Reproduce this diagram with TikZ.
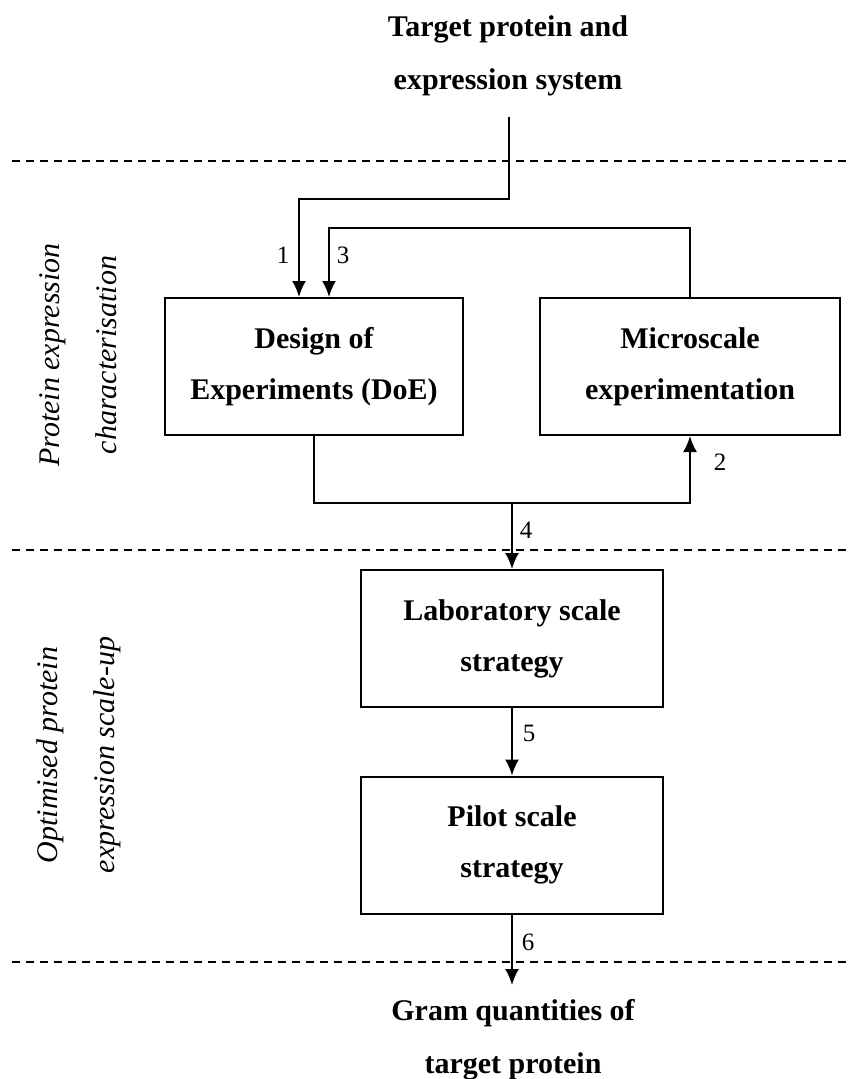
\documentclass[tikz,border=0pt]{standalone}
\usepackage{fontspec}
\setmainfont{Liberation Serif}
\usetikzlibrary{arrows.meta}
\begin{document}
\begin{tikzpicture}[x=1pt,y=-1pt,
  stagebox/.style={draw,line width=2pt,minimum height=137pt,align=center,
    inner sep=0pt,font=\fontsize{30}{51}\selectfont\bfseries},
  endtext/.style={align=center,font=\fontsize{30}{53}\selectfont\bfseries},
  phase/.style={align=center,rotate=90,font=\fontsize{30}{57}\selectfont\itshape},
  flow/.style={line width=2pt,-{Latex[length=16pt,width=14pt]}},
  sep/.style={line width=2pt,dash pattern=on 8pt off 6pt},
  num/.style={font=\fontsize{25}{25}\selectfont,inner sep=0pt}]
\useasboundingbox (0,0) rectangle (848,1079);

% phase separators
\draw[sep] (12,161) -- (846,161);
\draw[sep] (12,550) -- (846,550);
\draw[sep] (12,962) -- (846,962);

% phase labels
\node[phase] (ph1) at (78,355) {Protein expression\\characterisation};
\node[phase] (ph2) at (79,755) {Optimised protein\\expression scale-up};

% start and end of the process
\node[endtext] (start) at (508,56) {Target protein and\\expression system};
\node[endtext] (finish) at (513,1040) {Gram quantities of\\target protein};
\coordinate (src) at (509,117);
\coordinate (sink) at (512,985);

% stages
\node[stagebox,minimum width=298pt] (doe) at (314,366.5) {Design of\\Experiments (DoE)};
\node[stagebox,minimum width=300pt] (micro) at (690,366.5) {Microscale\\experimentation};
\node[stagebox,minimum width=302pt] (lab) at (512,638.5) {Laboratory scale\\strategy};
\node[stagebox,minimum width=302pt] (pilot) at (512,845) {Pilot scale\\strategy};

% connectors
\draw[flow] (src) -- (509,199) -| ([xshift=-15pt]doe.north);
\draw[flow] (micro.north) -- ++(0,-69) -| ([xshift=15pt]doe.north);
\coordinate (j) at (512,503);
\draw[flow] (doe.south) |- (j) -| (micro.south);
\draw[flow] (j) -- (lab.north);
\draw[flow] (lab.south) -- (pilot.north);
\draw[flow] (pilot.south) -- (sink);

% step numbers
\node[num] (n1) at (283,255) {1};
\node[num] (n3) at (343,255) {3};
\node[num] (n2) at (720,462) {2};
\node[num] (n4) at (526,530) {4};
\node[num] (n5) at (529,733) {5};
\node[num] (n6) at (528,942) {6};
\end{tikzpicture}
\end{document}
